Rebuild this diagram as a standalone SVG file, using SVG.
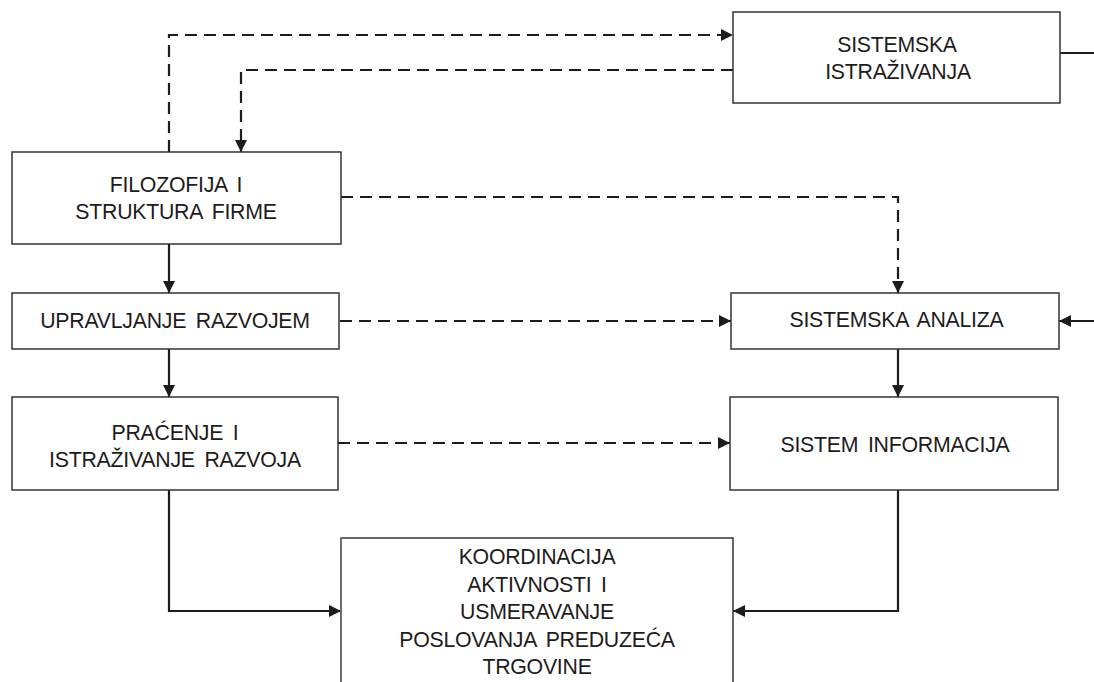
<svg xmlns="http://www.w3.org/2000/svg" width="1094" height="682" viewBox="0 0 1094 682">
<style>
.box{fill:#fff;stroke:#333;stroke-width:1.5}
.lbl{font-family:"Liberation Sans",Arial,Helvetica,sans-serif;font-size:21.3px;letter-spacing:-0.25px;word-spacing:4px;fill:#1e1b1c;text-anchor:middle}
.c{fill:none;stroke:#1e1b1c;stroke-width:2.2}
.d{stroke-dasharray:12 7}
</style>
<defs>
<marker id="ah" markerUnits="userSpaceOnUse" markerWidth="12" markerHeight="12" refX="12" refY="6" orient="auto">
<path d="M0,0 L12,6 L0,12 z" fill="#1e1b1c"/>
</marker>
</defs>
<rect width="1094" height="682" fill="#fff"/>
<g id="connectors">
<path class="c d" d="M169,152 V35 H733" marker-end="url(#ah)"/>
<path class="c d" d="M733,70 H241 V152" marker-end="url(#ah)"/>
<path class="c d" d="M341,197 H898 V293" marker-end="url(#ah)"/>
<path class="c" d="M169,244 V293" marker-end="url(#ah)"/>
<path class="c d" d="M340,321 H731" marker-end="url(#ah)"/>
<path class="c" d="M169,349 V397" marker-end="url(#ah)"/>
<path class="c d" d="M338,443 H730" marker-end="url(#ah)"/>
<path class="c" d="M1094,321 H1059" marker-end="url(#ah)"/>
<path class="c" d="M898,349 V397" marker-end="url(#ah)"/>
<path class="c" d="M169,490 V611 H341" marker-end="url(#ah)"/>
<path class="c" d="M898,490 V611 H733" marker-end="url(#ah)"/>
<path class="c" d="M1060,53 H1094"/>
</g>
<g id="n-sistemska-istrazivanja">
<rect class="box" x="733" y="12" width="327" height="91"/>
<text class="lbl" x="897" y="52">SISTEMSKA</text>
<text class="lbl" x="898" y="79">ISTRAŽIVANJA</text>
</g>
<g id="n-filozofija">
<rect class="box" x="12" y="152" width="329" height="92"/>
<text class="lbl" x="176" y="192">FILOZOFIJA I</text>
<text class="lbl" x="176" y="219">STRUKTURA FIRME</text>
</g>
<g id="n-upravljanje">
<rect class="box" x="12" y="293" width="327" height="56"/>
<text class="lbl" x="175" y="328">UPRAVLJANJE RAZVOJEM</text>
</g>
<g id="n-pracenje">
<rect class="box" x="12" y="397" width="326" height="93"/>
<text class="lbl" x="175" y="440">PRAĆENJE I</text>
<text class="lbl" x="175" y="467">ISTRAŽIVANJE RAZVOJA</text>
</g>
<g id="n-sistemska-analiza">
<rect class="box" x="731" y="293" width="328" height="56"/>
<text class="lbl" x="896.5" y="327">SISTEMSKA ANALIZA</text>
</g>
<g id="n-sistem-informacija">
<rect class="box" x="730" y="397" width="328" height="93"/>
<text class="lbl" x="895" y="452">SISTEM INFORMACIJA</text>
</g>
<g id="n-koordinacija">
<path d="M341,690 V538 H733 V690" fill="#fff" stroke="#333" stroke-width="1.5"/>
<path d="M341,690 V538" fill="none" stroke="#707070" stroke-width="1.6"/>
<text class="lbl" x="537" y="564">KOORDINACIJA</text>
<text class="lbl" x="537" y="591.5">AKTIVNOSTI I</text>
<text class="lbl" x="537" y="619">USMERAVANJE</text>
<text class="lbl" x="537" y="646.5">POSLOVANJA PREDUZEĆA</text>
<text class="lbl" x="537" y="674">TRGOVINE</text>
</g>
</svg>
